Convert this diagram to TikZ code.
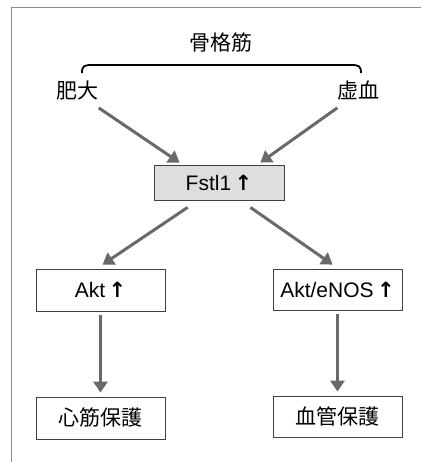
\documentclass[tikz,border=0pt]{standalone}
\usepackage{fontspec}
\setmainfont{Liberation Sans}
\newfontfamily\jp{Noto Sans CJK JP}
\newfontfamily\arrowfont{DejaVu Sans}
\usetikzlibrary{arrows.meta}
\definecolor{arrowgray}{RGB}{105,105,105}
\tikzset{
  lbl/.style={inner sep=0pt, font=\fontsize{21}{24}\selectfont\jp},
  box/.style={draw=black!75, line width=0.8pt, rectangle, minimum width=129pt, minimum height=42pt, inner sep=0pt, font=\fontsize{21}{24}\selectfont},
  bigarrow/.style={draw=arrowgray, line width=3pt, -{Triangle[length=11pt,width=14pt]}},
  frame/.style={draw=black!45, line width=0.8pt}
}
\begin{document}
\begin{tikzpicture}[x=1pt,y=-1pt]
\useasboundingbox (0,0) rectangle (421,462);
\draw[frame] (421,7) -- (11,7) -- (11,462);
\node[lbl] (kokkaku) at (221,43) {骨格筋};
\draw[line width=1.8pt] (82,73) .. controls (82,66) and (84,65) .. (92,65) -- (351,65) .. controls (359,65) and (361,66) .. (361,73);
\node[lbl] (hidai) at (77.5,91) {肥大};
\node[lbl] (kyoketsu) at (358.5,91) {虚血};
\node[box, fill=black!13, minimum width=130pt, minimum height=35pt] (fstl) at (219,182.5) {Fstl1\,{\arrowfont\bfseries ↑}};
\node[box] (akt) at (100.5,290) {Akt\,{\arrowfont\bfseries ↑}};
\node[box, minimum height=41pt] (aktenos) at (337.5,289.5) {Akt/eNOS\,{\arrowfont\bfseries ↑}};
\node[box, font=\fontsize{21}{24}\selectfont\jp] (shinkin) at (100.5,418) {心筋保護};
\node[box, minimum height=41pt, font=\fontsize{21}{24}\selectfont\jp] (kekkan) at (337.5,416.5) {血管保護};
\draw[bigarrow] ([yshift=-7pt]hidai.south east) -- ([xshift=26pt,yshift=2pt]fstl.north west);
\draw[bigarrow] ([yshift=-7pt]kyoketsu.south west) -- ([xshift=-24pt,yshift=2pt]fstl.north east);
\draw[bigarrow] ([xshift=34pt,yshift=-7pt]fstl.south west) -- ([xshift=67pt,yshift=4pt]akt.north west);
\draw[bigarrow] ([xshift=-34pt,yshift=-7pt]fstl.south east) -- ([xshift=60pt,yshift=4pt]aktenos.north west);
\draw[bigarrow] ([yshift=-4pt]akt.south) -- ([yshift=4pt]shinkin.north);
\draw[bigarrow] ([yshift=-4pt]aktenos.south) -- ([yshift=4pt]kekkan.north);
\end{tikzpicture}
\end{document}
